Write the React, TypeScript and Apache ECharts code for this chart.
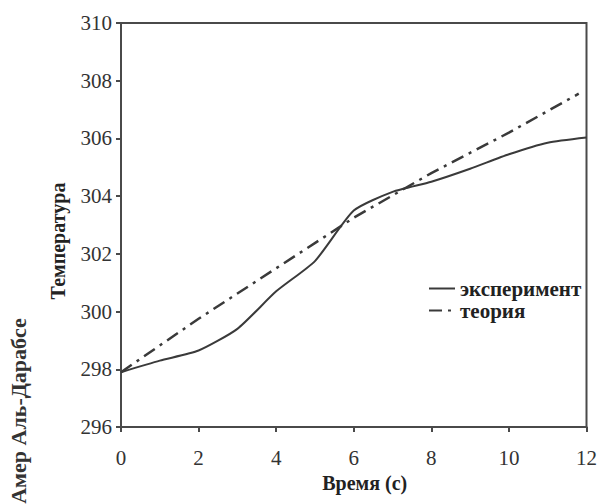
import React, { useEffect, useRef } from "react";
import * as echarts from "echarts";

const timeExp = [0, 1, 2, 3, 4, 5, 6, 7, 8, 9, 10, 11, 12];
const tempExp = [297.9, 298.3, 298.65, 299.4, 300.7, 301.75, 303.5, 304.15, 304.5, 304.95, 305.45, 305.85, 306.03];
const timeTheory = [0, 2, 4, 6, 8, 10, 11.8];
const tempTheory = [297.9, 299.75, 301.5, 303.25, 304.8, 306.2, 307.55];
const xTicks = [0, 2, 4, 6, 8, 10, 12];
const yTicks = [296, 298, 300, 302, 304, 306, 308, 310];
const seriesNames = ["эксперимент", "теория"];
const xTitle = "Время (с)";
const yTitle = "Температура";
const author = "Амер Аль-Дарабсе";

export default function App() {
  const ref = useRef<HTMLDivElement>(null);
  useEffect(() => {
    if (!ref.current) return;
    const chart = echarts.init(ref.current, null, { renderer: "svg" });
    const serif = "'Liberation Serif', 'DejaVu Serif', serif";
    const axisColor = "#4a4a4a";
    chart.setOption({
      animation: false,
      backgroundColor: "#ffffff",
      grid: {
        left: 121,
        right: 13,
        top: 23,
        bottom: 77,
        show: true,
        borderColor: axisColor,
        borderWidth: 2,
      },
      legend: {
        left: 423,
        top: 273,
        orient: "vertical",
        itemWidth: 26,
        itemHeight: 14,
        itemGap: 1,
        itemStyle: { opacity: 0 },
        textStyle: { fontFamily: serif, fontWeight: "bold", fontSize: 21, color: "#222" },
        data: seriesNames,
      },
      xAxis: {
        type: "value",
        min: xTicks[0],
        max: xTicks[xTicks.length - 1],
        interval: 2,
        name: xTitle,
        nameLocation: "middle",
        nameGap: 40,
        nameTextStyle: { fontFamily: serif, fontWeight: "bold", fontSize: 20, color: "#222", padding: [0, 0, 0, 22] },
        axisLine: { lineStyle: { color: axisColor, width: 2 } },
        axisTick: { lineStyle: { color: axisColor, width: 2 }, length: 5 },
        axisLabel: { fontFamily: serif, fontSize: 21, color: "#333", margin: 20 },
        splitLine: { show: false },
      },
      yAxis: {
        type: "value",
        min: yTicks[0],
        max: yTicks[yTicks.length - 1],
        interval: 2,
        name: yTitle,
        nameLocation: "middle",
        nameGap: 53,
        nameRotate: 90,
        nameTextStyle: { fontFamily: serif, fontWeight: "bold", fontSize: 20, color: "#222", padding: [0, 32, 0, 0] },
        axisLine: { show: true, lineStyle: { color: axisColor, width: 2 } },
        axisTick: { show: true, lineStyle: { color: axisColor, width: 2 }, length: 5 },
        axisLabel: { fontFamily: serif, fontSize: 21, color: "#333", margin: 9 },
        splitLine: { show: false },
      },
      graphic: [
        {
          type: "text",
          x: 18,
          y: 411,
          rotation: Math.PI / 2,
          style: {
            text: author,
            fontFamily: serif,
            fontWeight: "bold",
            fontSize: 22,
            fill: "#333",
            align: "center",
            verticalAlign: "middle",
          },
        },
      ],
      series: [
        {
          name: seriesNames[0],
          type: "line",
          showSymbol: false,
          symbol: "none",
          smooth: 0.2,
          data: timeExp.map((t, i) => [t, tempExp[i]]),
          lineStyle: { color: "#3a3a3a", width: 2 },
          itemStyle: { color: "#3a3a3a" },
        },
        {
          name: seriesNames[1],
          type: "line",
          showSymbol: false,
          symbol: "none",
          data: timeTheory.map((t, i) => [t, tempTheory[i]]),
          lineStyle: { color: "#3a3a3a", width: 2.5, type: [13, 6, 3, 6] },
          itemStyle: { color: "#3a3a3a" },
        },
      ],
    });
    return () => chart.dispose();
  }, []);
  return <div ref={ref} style={{ width: 600, height: 504, position: "absolute", left: 0, top: 0 }} />;
}
